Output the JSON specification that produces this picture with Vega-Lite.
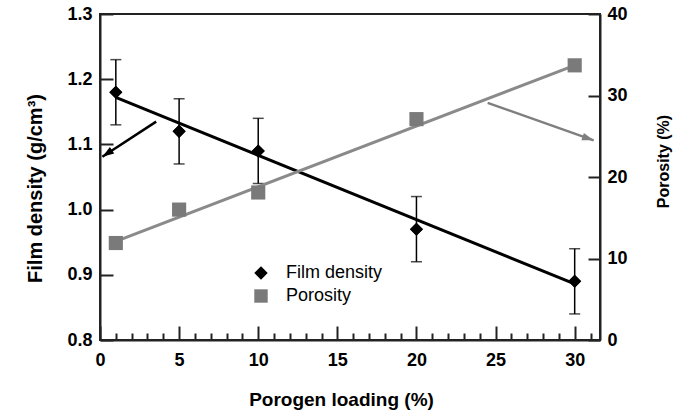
{
  "$schema": "https://vega.github.io/schema/vega-lite/v6.json",
  "width": 500,
  "height": 326,
  "autosize": {"type": "none"},
  "padding": {"left": 100, "top": 14, "right": 80, "bottom": 75},
  "background": "white",
  "datasets": {
    "density": [
      {"x": 1, "d": 1.18, "lo": 1.13, "hi": 1.23, "series": "Film density"},
      {"x": 5, "d": 1.12, "lo": 1.07, "hi": 1.17, "series": "Film density"},
      {"x": 10, "d": 1.09, "lo": 1.04, "hi": 1.14, "series": "Film density"},
      {"x": 20, "d": 0.97, "lo": 0.92, "hi": 1.02, "series": "Film density"},
      {"x": 30, "d": 0.89, "lo": 0.84, "hi": 0.94, "series": "Film density"}
    ],
    "porosity": [
      {"x": 1, "p": 11.9, "series": "Porosity"},
      {"x": 5, "p": 16.0, "series": "Porosity"},
      {"x": 10, "p": 18.1, "series": "Porosity"},
      {"x": 20, "p": 27.1, "series": "Porosity"},
      {"x": 30, "p": 33.7, "series": "Porosity"}
    ],
    "densityFit": [{"x": 1, "d": 1.172}, {"x": 30, "d": 0.886}],
    "porosityFit": [{"x": 1, "p": 12.1}, {"x": 30, "p": 33.7}],
    "blackArrow": [{"x": 3.55, "d": 1.135}, {"x": 0.15, "d": 1.081}],
    "blackHead": [{"x": 0.15, "d": 1.081}],
    "grayArrow": [{"x": 24.5, "p": 29.1}, {"x": 31.2, "p": 24.5}],
    "grayHead": [{"x": 31.2, "p": 24.5}]
  },
  "config": {
    "view": {"stroke": "#222", "strokeWidth": 2},
    "axis": {
      "domainColor": "#222", "domainWidth": 2, "tickColor": "#222", "tickWidth": 2,
      "grid": false, "labelFont": "Liberation Sans", "labelFontWeight": "bold",
      "labelFontSize": 18, "labelColor": "black", "titleFont": "Liberation Sans",
      "titleFontWeight": "bold", "titleColor": "black", "labelOverlap": false
    }
  },
  "resolve": {"scale": {"y": "independent"}},
  "layer": [
    {
      "layer": [
        {
          "data": {"name": "density"},
          "mark": {"type": "point", "filled": true, "opacity": 1, "size": 170},
          "encoding": {
            "x": {
              "field": "x", "type": "quantitative",
              "scale": {"domain": [0, 31.6], "nice": false, "zero": false},
              "axis": {
                "title": "Porogen loading (%)", "orient": "bottom",
                "values": [0,1,2,3,4,5,6,7,8,9,10,11,12,13,14,15,16,17,18,19,20,21,22,23,24,25,26,27,28,29,30,31],
                "tickCount": 40,
                "labelExpr": "datum.value % 5 === 0 ? datum.label : ''",
                "labelOverlap": false, "labelBound": false,
                "tickSize": {"condition": {"test": "datum.value % 5 === 0", "value": -14}, "value": -7},
                "labelPadding": 25, "labelFlush": false,
                "titleFontSize": 19, "titlePadding": 14, "titleX": 241, "titleAlign": "center"
              }
            },
            "y": {
              "field": "d", "type": "quantitative",
              "scale": {"domain": [0.8, 1.3], "nice": false, "zero": false},
              "axis": {
                "title": "Film density (g/cm³)", "orient": "left",
                "values": [0.8, 0.9, 1.0, 1.1, 1.2, 1.3], "format": ".1f",
                "tickSize": -13, "labelPadding": 21, "titleFontSize": 20, "titlePadding": 21,
                "titleY": 174, "titleAlign": "center"
              }
            },
            "color": {
              "field": "series", "type": "nominal",
              "scale": {"domain": ["Film density", "Porosity"], "range": ["black", "#7a7a7a"]},
              "legend": {"orient": "none", "legendX": 152, "legendY": 250, "title": null, "labelFontSize": 18, "labelFont": "Liberation Sans", "labelColor": "black", "symbolSize": 180, "labelOffset": 16, "rowPadding": 5, "padding": 0, "symbolStrokeWidth": 0}
            },
            "shape": {
              "field": "series", "type": "nominal",
              "scale": {"domain": ["Film density", "Porosity"], "range": ["diamond", "square"]},
              "legend": {"orient": "none", "legendX": 152, "legendY": 250, "title": null, "labelFontSize": 18, "labelFont": "Liberation Sans", "labelColor": "black", "symbolSize": 180, "labelOffset": 16, "rowPadding": 5, "padding": 0, "symbolStrokeWidth": 0}
            }
          }
        },
        {
          "data": {"name": "density"},
          "mark": {"type": "errorbar", "ticks": {"size": 11}, "color": "black", "thickness": 1.5},
          "encoding": {
            "x": {"field": "x", "type": "quantitative"},
            "y": {"field": "lo", "type": "quantitative", "title": "Film density (g/cm³)"},
            "y2": {"field": "hi"}
          }
        },
        {
          "data": {"name": "densityFit"},
          "mark": {"type": "line", "color": "black", "strokeWidth": 3},
          "encoding": {
            "x": {"field": "x", "type": "quantitative"},
            "y": {"field": "d", "type": "quantitative"}
          }
        },
        {
          "data": {"name": "blackArrow"},
          "mark": {"type": "line", "color": "black", "strokeWidth": 2.5},
          "encoding": {
            "x": {"field": "x", "type": "quantitative"},
            "y": {"field": "d", "type": "quantitative"}
          }
        },
        {
          "data": {"name": "blackHead"},
          "mark": {"type": "point", "shape": "M0,0L0.36,1.1L-0.36,1.1Z", "filled": true, "color": "black", "opacity": 1, "size": 450, "angle": 236},
          "encoding": {
            "x": {"field": "x", "type": "quantitative"},
            "y": {"field": "d", "type": "quantitative"}
          }
        },
        {
          "data": {"name": "density"},
          "mark": {"type": "point", "filled": true, "opacity": 1, "size": 170, "shape": "diamond", "color": "black"},
          "encoding": {
            "x": {"field": "x", "type": "quantitative"},
            "y": {"field": "d", "type": "quantitative"}
          }
        }
      ]
    },
    {
      "layer": [
        {
          "data": {"name": "porosityFit"},
          "mark": {"type": "line", "color": "#8a8a8a", "strokeWidth": 3},
          "encoding": {
            "x": {"field": "x", "type": "quantitative"},
            "y": {
              "field": "p", "type": "quantitative",
              "scale": {"domain": [0, 40], "nice": false, "zero": false},
              "axis": {
                "title": "Porosity (%)", "orient": "right",
                "values": [0, 10, 20, 30, 40],
                "tickSize": -12, "labelPadding": 19, "titleFontSize": 16,
                "titleAngle": -90, "titleBaseline": "top", "titlePadding": 28,
                "titleY": 147, "titleAlign": "center"
              }
            }
          }
        },
        {
          "data": {"name": "grayArrow"},
          "mark": {"type": "line", "color": "#7f7f7f", "strokeWidth": 2.5},
          "encoding": {
            "x": {"field": "x", "type": "quantitative"},
            "y": {"field": "p", "type": "quantitative"}
          }
        },
        {
          "data": {"name": "grayHead"},
          "mark": {"type": "point", "shape": "M0,0L0.36,1.1L-0.36,1.1Z", "filled": true, "color": "#7f7f7f", "opacity": 1, "size": 450, "angle": 109},
          "encoding": {
            "x": {"field": "x", "type": "quantitative"},
            "y": {"field": "p", "type": "quantitative"}
          }
        },
        {
          "data": {"name": "porosity"},
          "mark": {"type": "point", "filled": true, "opacity": 1, "size": 200},
          "encoding": {
            "x": {"field": "x", "type": "quantitative"},
            "y": {"field": "p", "type": "quantitative"},
            "color": {"field": "series", "type": "nominal"},
            "shape": {"field": "series", "type": "nominal"}
          }
        }
      ]
    }
  ]
}
